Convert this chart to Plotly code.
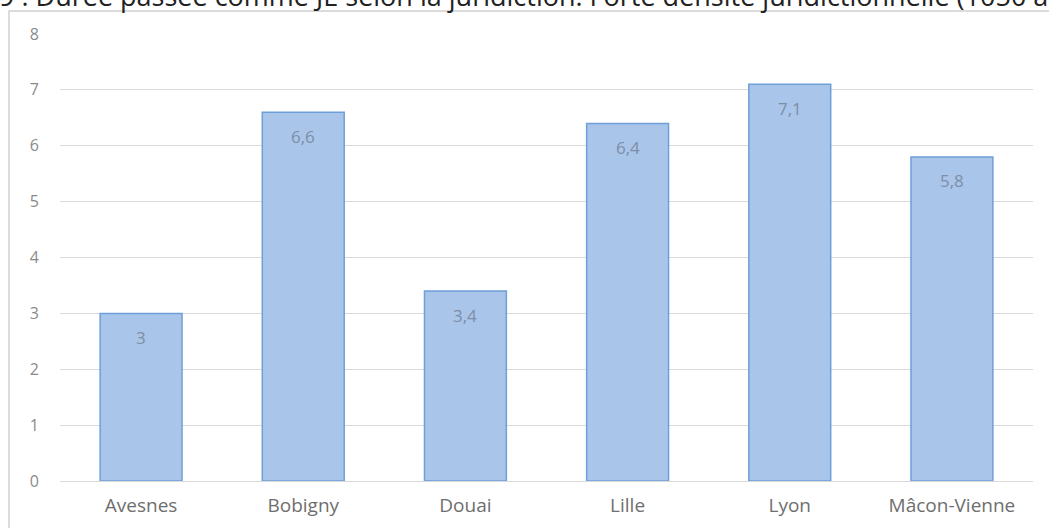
import plotly.graph_objects as go

categories = ["Avesnes", "Bobigny", "Douai", "Lille", "Lyon", "Mâcon-Vienne"]
values = [3, 6.6, 3.4, 6.4, 7.1, 5.8]
y_ticks = [0, 1, 2, 3, 4, 5, 6, 7, 8]
title_text = "9 : Durée passée comme JE selon la juridiction. Forte densité juridictionnelle (1050 à"

W, H = 1049, 528
L, R, T, B = 60, 16, 34, 47
pw, ph = W - L - R, H - T - B

fig = go.Figure()
fig.add_trace(go.Bar(
    x=categories, y=values, width=0.505,
    marker=dict(color="#a9c5ea", line=dict(color="#6f9fd8", width=1.5)),
    hoverinfo="skip",
))

for c, v in zip(categories, values):
    fig.add_annotation(
        x=c, y=v, xref="x", yref="y", yshift=-24, showarrow=False,
        text=f"{v:g}".replace(".", ","),
        font=dict(family="Open Sans", size=17, color="#7d8ea6"),
    )

# title, clipped at the top of the page as in the reference
fig.add_annotation(
    xref="paper", yref="paper", x=(-3 - L) / pw, y=(H - B - 16) / ph,
    xanchor="left", yanchor="bottom", showarrow=False, text=title_text,
    font=dict(family="Open Sans", size=27, color="#222222"),
)

# outer chart frame
fig.add_shape(
    type="rect", xref="paper", yref="paper",
    x0=(9 - L) / pw, x1=(W + 5 - L) / pw,
    y0=-(B + 8) / ph, y1=(H - B - 11) / ph,
    line=dict(color="#d0d0d0", width=1.5), fillcolor="rgba(0,0,0,0)", layer="below",
)

fig.update_layout(
    width=W, height=H,
    margin=dict(l=L, r=R, t=T, b=B, autoexpand=False),
    paper_bgcolor="white", plot_bgcolor="white",
    showlegend=False, separators=", ",
    font=dict(family="Open Sans", color="#707070"),
)
fig.update_xaxes(
    showgrid=False, showline=True, linecolor="#d9d9d9", linewidth=1, automargin=False,
    tickfont=dict(size=19, color="#6e6e6e"), ticks="", ticklabelstandoff=7,
)
fig.update_yaxes(
    range=[0, 8], tickvals=y_ticks, showgrid=True, gridcolor="#d9d9d9", gridwidth=1,
    zeroline=False, showline=False, ticks="", automargin=False,
    tickfont=dict(size=16, color="#8a8a8a"), ticklabelstandoff=20,
)

fig.write_html("out.html")
